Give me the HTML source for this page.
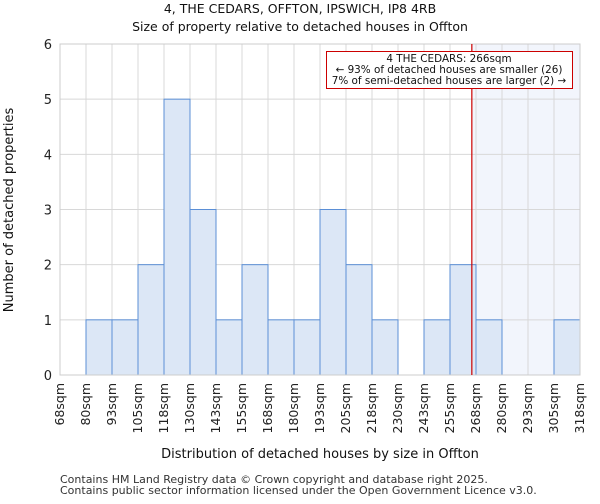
<!DOCTYPE html>
<html><head><meta charset="utf-8"><style>
body{margin:0;background:#fff;font-family:"DejaVu Sans","Liberation Sans",sans-serif}
</style></head><body>
<svg id="c" width="600" height="500" xmlns="http://www.w3.org/2000/svg" font-family="DejaVu Sans, Liberation Sans, sans-serif"></svg>
<script>
const categories=["68sqm","80sqm","93sqm","105sqm","118sqm","130sqm","143sqm","155sqm","168sqm","180sqm","193sqm","205sqm","218sqm","230sqm","243sqm","255sqm","268sqm","280sqm","293sqm","305sqm","318sqm"];
const binStarts=[68,80.5,93,105.5,118,130.5,143,155.5,168,180.5,193,205.5,218,230.5,243,255.5,268,280.5,293,305.5];
const counts=[0,1,1,2,5,3,1,2,1,1,3,2,1,0,1,2,1,0,0,1];
const yTicks=[0,1,2,3,4,5,6];
const subjectValue=266;
const X0=60,X1=580,Y0=375,Y1=44,xmin=68,xmax=318,ymax=6;
const sx=v=>X0+(v-xmin)/(xmax-xmin)*(X1-X0);
const sy=v=>Y0-v/ymax*(Y0-Y1);
const svg=document.getElementById('c');
const NS="http://www.w3.org/2000/svg";
function mk(t,a,txt){const e=document.createElementNS(NS,t);for(const k in a)e.setAttribute(k,a[k]);if(txt!=null)e.textContent=txt;svg.appendChild(e);return e;}
let e;
e=mk('rect',{x:sx(subjectValue),y:Y1,width:X1-sx(subjectValue),height:Y0-Y1,fill:'#f2f5fc'});

const bw=(X1-X0)/20;
for(let i=0;i<=20;i++){e=mk('line',{x1:X0+i*bw,x2:X0+i*bw,y1:Y1,y2:Y0,stroke:'#d8d8d8','stroke-width':1});
}
yTicks.forEach(t=>{e=mk('line',{x1:X0,x2:X1,y1:sy(t),y2:sy(t),stroke:'#d8d8d8','stroke-width':1});

e=mk('text',{x:X0-8,y:sy(t)+5,'text-anchor':'end','font-size':13,fill:'#222'},t);
});
counts.forEach((c,i)=>{if(!c)return;const x=sx(binStarts[i]),w=sx(binStarts[i]+12.5)-x;
e=mk('rect',{x:x,y:sy(c),width:w,height:Y0-sy(c),fill:'#dce7f6',stroke:'#5b8fd6','stroke-width':1});
});
e=mk('rect',{x:X0,y:Y1,width:X1-X0,height:Y0-Y1,fill:'none',stroke:'#cccccc'});

categories.forEach((c,i)=>{const x=X0+i*bw+4;
e=mk('text',{x:x,y:383,'text-anchor':'end','font-size':12.5,fill:'#222',transform:`rotate(-90 ${x} 383)`},c);
});
e=mk('line',{x1:sx(subjectValue),x2:sx(subjectValue),y1:Y1,y2:Y0,stroke:'#cc0000','stroke-width':1.2});

e=mk('rect',{x:326.5,y:51.5,width:246,height:37,fill:'#fff',stroke:'#cc0000','stroke-width':1});

[["4 THE CEDARS: 266sqm",62],["← 93% of detached houses are smaller (26)",73],["7% of semi-detached houses are larger (2) →",84]].forEach(a=>{
e=mk('text',{x:449,y:a[1],'text-anchor':'middle','font-size':10.4,fill:'#111'},a[0]);
});
e=mk('text',{x:300,y:13,'text-anchor':'middle','font-size':12.5,fill:'#111'},"4, THE CEDARS, OFFTON, IPSWICH, IP8 4RB");

e=mk('text',{x:300,y:31,'text-anchor':'middle','font-size':12.5,fill:'#111'},"Size of property relative to detached houses in Offton");

e=mk('text',{x:320,y:458,'text-anchor':'middle','font-size':13,fill:'#111'},"Distribution of detached houses by size in Offton");

e=mk('text',{x:13,y:210,'text-anchor':'middle','font-size':13,fill:'#111',transform:'rotate(-90 13 210)'},"Number of detached properties");

e=mk('text',{x:60,y:483,'font-size':11,fill:'#333'},"Contains HM Land Registry data © Crown copyright and database right 2025.");

e=mk('text',{x:60,y:494,'font-size':11,fill:'#333'},"Contains public sector information licensed under the Open Government Licence v3.0.");

</script>
</body></html>
